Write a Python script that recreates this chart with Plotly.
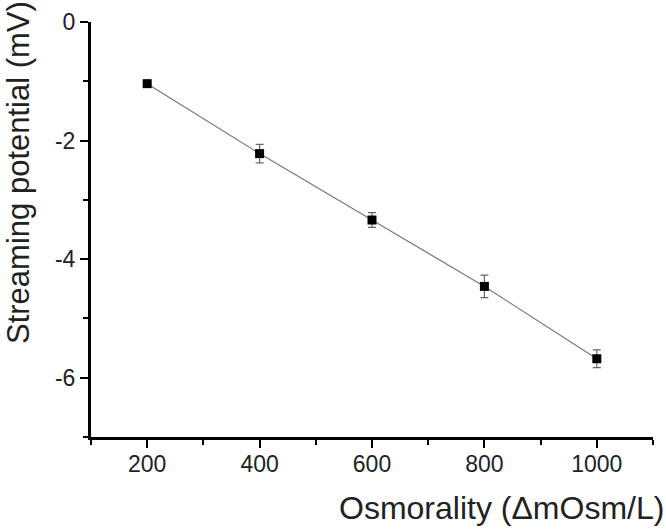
import plotly.graph_objects as go

# data
osmolality = [200, 400, 600, 800, 1000]
potential = [-1.04, -2.22, -3.34, -4.46, -5.68]
potential_err = [0.03, 0.155, 0.125, 0.19, 0.15]

y_ticks = [0, -2, -4, -6]
y_labels = ["0", "-2", "-4", "-6"]
x_ticks = [200, 400, 600, 800, 1000]

font = "Liberation Sans, Arial, sans-serif"

fig = go.Figure()
fig.add_trace(go.Scatter(
    x=osmolality,
    y=potential,
    mode="lines+markers",
    line=dict(color="#777777", width=1.2),
    marker=dict(symbol="square", size=9, color="black"),
    error_y=dict(type="data", array=potential_err, visible=True,
                 color="#666666", thickness=1.2, width=4),
    showlegend=False,
))

axis_common = dict(
    showgrid=False, zeroline=False, showline=True, linecolor="black", linewidth=3,
    ticks="outside", ticklen=8, tickwidth=2, tickcolor="black", automargin=False,
    tickfont=dict(family=font, size=23, color="#222222"),
)

fig.update_xaxes(range=[100, 1100], tickvals=x_ticks, ticklabelstandoff=-4,
                 minor=dict(dtick=100, tick0=100, ticks="outside", ticklen=5, tickwidth=2, tickcolor="black"),
                 **axis_common)
fig.update_yaxes(range=[-7, 0], tickvals=y_ticks, ticktext=y_labels,
                 minor=dict(dtick=1, tick0=-7, ticks="outside", ticklen=5, tickwidth=2, tickcolor="black"),
                 **axis_common)

fig.add_annotation(text="Osmorality (ΔmOsm/L)", xref="paper", yref="paper",
                   x=(501 - 91) / 562, y=-(508 - 437) / 415, showarrow=False,
                   xanchor="center", yanchor="middle",
                   font=dict(family=font, size=32, color="#222222"))
fig.add_annotation(text="Streaming potential (mV)", xref="paper", yref="paper",
                   x=-(91 - 18) / 562, y=(437 - 173) / 415, showarrow=False, textangle=-90,
                   xanchor="center", yanchor="middle",
                   font=dict(family=font, size=31, color="#222222"))

fig.update_layout(
    width=666, height=530,
    margin=dict(l=91, r=13, t=22, b=93),
    plot_bgcolor="white", paper_bgcolor="white",
)

fig.write_html("out.html", config={"displayModeBar": False},
               post_script="document.body.style.margin = '0';")
